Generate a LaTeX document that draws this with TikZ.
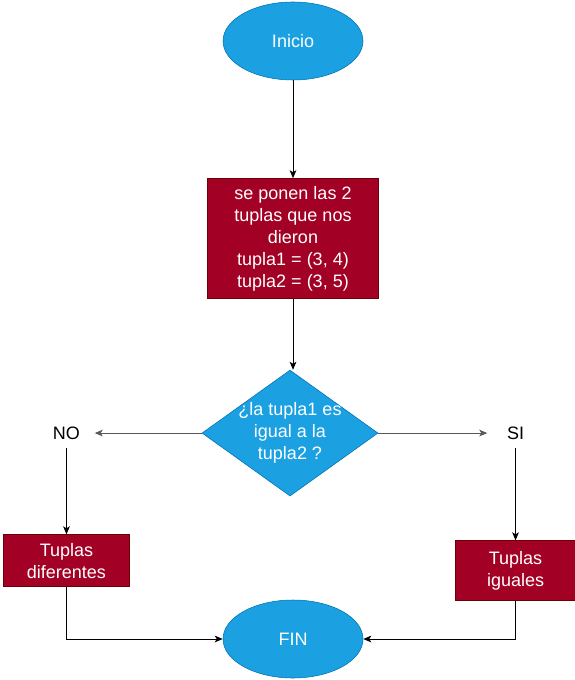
\documentclass[tikz,border=0pt]{standalone}
\usepackage{fontspec}
\setmainfont{Liberation Sans}
\usepackage{xcolor}
\usepackage{tikz}
\usetikzlibrary{arrows.meta,positioning,shapes.geometric}

\definecolor{azul}{HTML}{1BA1E2}
\definecolor{azulborde}{HTML}{006EAF}
\definecolor{rojo}{HTML}{A20025}
\definecolor{rojoborde}{HTML}{6F0000}

\begin{document}
\begin{tikzpicture}[
  x=0.75pt, y=-0.75pt,
  font=\fontsize{13.5}{16.5}\selectfont,
  every node/.style={inner sep=2pt},
  term/.style={ellipse, draw=azulborde, fill=azul, text=white,
               minimum width=105pt, minimum height=58.5pt},
  proc/.style={draw=rojoborde, fill=rojo, text=white, align=center},
  decision/.style={diamond, draw=azulborde, fill=azul,
                   minimum width=132pt, minimum height=94.5pt, inner sep=0pt},
  qtxt/.style={text=white, align=center},
  lbl/.style={minimum width=42pt, minimum height=22.5pt},
  ar/.style={-{Stealth[length=6pt,width=5pt,inset=1.5pt]}, line width=0.75pt, black},
  arg/.style={ar, draw=black!65},
]
\useasboundingbox (0,0) rectangle (574,680);

% =============================================================== main column
\node[term] (inicio) at (293,41) {Inicio};
\node[proc, below=73.5pt of inicio, minimum width=128.25pt, minimum height=90pt] (datos)
  {se ponen las 2\\tuplas que nos\\dieron\\ tupla1 = (3, 4)\\tupla2 = (3, 5)};
\node[decision, below=53.25pt of datos, xshift=-2.25pt] (cond) {};
\node[qtxt] (condtxt) at (cond) {¿la tupla1 es\\igual a la\\tupla2 ?};

% --- the two branches ---
\node[lbl, left=80.25pt of cond] (no) {NO};
\node[lbl, right=81.75pt of cond] (si) {SI};
\node[proc, below=64.5pt of no, minimum width=94.5pt, minimum height=39pt] (dif)
  {Tuplas\\diferentes};
\node[proc, below=69pt of si, minimum width=90pt, minimum height=45pt] (igu)
  {Tuplas\\iguales};

\node[term] (fin) at (293,639) {FIN};

\draw[ar] (inicio) -- (datos);
\draw[ar] (datos) -- (cond.north -| datos);
\draw[arg] (cond) -- (no);
\draw[arg] (cond) -- (si);
\draw[ar] (no) -- (dif);
\draw[ar] (si) -- (igu);
\draw[ar] (dif) |- (fin);
\draw[ar] (igu) |- (fin);

\end{tikzpicture}
\end{document}
